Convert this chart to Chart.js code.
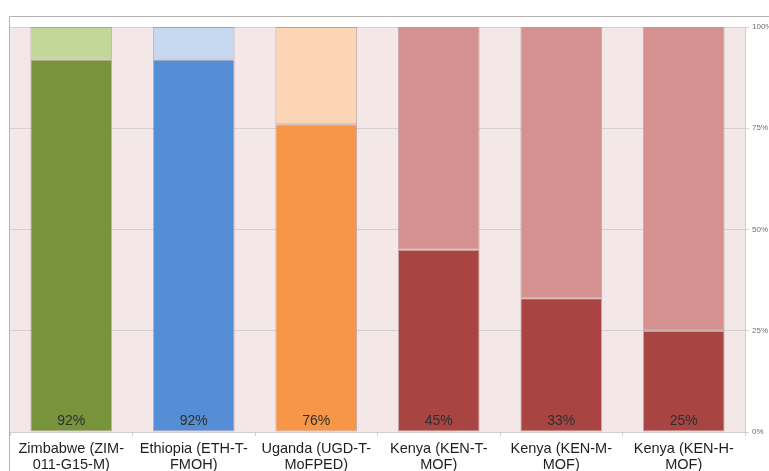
<!DOCTYPE html>
<html>
<head>
<meta charset="utf-8">
<script src="https://cdn.jsdelivr.net/npm/chart.js@4/dist/chart.umd.min.js"></script>
<style>
  html, body { margin: 0; padding: 0; background: #ffffff; }
  #wrap { width: 769px; height: 471px; position: relative; }
</style>
</head>
<body>
<div id="wrap"><canvas id="chart" width="769" height="471"></canvas></div>
<script>
// Budget programmes and the share achieved (percent); the rest fills each column to 100%
const categories = [
  ['Zimbabwe (ZIM-', '011-G15-M)'],
  ['Ethiopia (ETH-T-', 'FMOH)'],
  ['Uganda (UGD-T-', 'MoFPED)'],
  ['Kenya (KEN-T-', 'MOF)'],
  ['Kenya (KEN-M-', 'MOF)'],
  ['Kenya (KEN-H-', 'MOF)']
];
const achieved = [92, 92, 76, 45, 33, 25];
const remaining = [8, 8, 24, 55, 67, 75];
const yTicks = [0, 25, 50, 75, 100];

// Per-column colours: strong tone for the achieved part, pale tone for the remainder
const strongColors = ['#77933c', '#558ed5', '#f79646', '#a84542', '#a84542', '#a84542'];
const paleColors = ['#c4d79b', '#c6d9f1', '#fcd5b5', '#d49190', '#d49190', '#d49190'];
const edgeColor = 'rgba(150, 95, 95, 0.45)';

// Pink plotting area plus the thin frame around the chart
const backdrop = {
  id: 'backdrop',
  beforeDraw(chart) {
    const { ctx, chartArea: a } = chart;
    ctx.save();
    ctx.fillStyle = '#f3e7e7';
    ctx.fillRect(a.left, a.top, a.right - a.left, a.bottom - a.top);
    ctx.strokeStyle = '#b3b3b3';
    ctx.lineWidth = 1;
    ctx.beginPath();
    ctx.moveTo(9.5, chart.height);
    ctx.lineTo(9.5, 16.5);
    ctx.lineTo(chart.width, 16.5);
    ctx.stroke();
    ctx.restore();
  }
};

// Percentage written near the foot of each column
const valueLabels = {
  id: 'valueLabels',
  afterDatasetsDraw(chart) {
    const { ctx } = chart;
    const meta = chart.getDatasetMeta(0);
    const base = chart.scales.y.getPixelForValue(0);
    ctx.save();
    ctx.font = '14px "Liberation Sans", Arial, sans-serif';
    ctx.fillStyle = '#2e2e2e';
    ctx.textAlign = 'center';
    ctx.textBaseline = 'middle';
    meta.data.forEach((bar, i) => {
      ctx.fillText(achieved[i] + '%', bar.x, base - 11);
    });
    ctx.restore();
  }
};

new Chart(document.getElementById('chart'), {
  type: 'bar',
  data: {
    labels: categories,
    datasets: [
      {
        data: achieved,
        backgroundColor: strongColors,
        borderColor: edgeColor,
        borderWidth: 1,
        borderSkipped: false,
        barPercentage: 0.667,
        categoryPercentage: 1
      },
      {
        data: remaining,
        backgroundColor: paleColors,
        borderColor: edgeColor,
        borderWidth: 1,
        borderSkipped: false,
        barPercentage: 0.667,
        categoryPercentage: 1
      }
    ]
  },
  options: {
    responsive: false,
    animation: false,
    devicePixelRatio: 1,
    layout: { padding: { left: 10, top: 27, right: 0, bottom: 0 } },
    plugins: {
      legend: { display: false },
      tooltip: { enabled: false }
    },
    scales: {
      x: {
        stacked: true,
        offset: true,
        grid: {
          offset: true,
          drawOnChartArea: false,
          drawTicks: true,
          tickLength: 4,
          color: '#cfcfcf'
        },
        border: { display: true, color: '#cfcfcf' },
        ticks: {
          maxRotation: 0,
          minRotation: 0,
          autoSkip: false,
          padding: 5,
          color: '#1f1f1f',
          font: { family: '"Liberation Sans", Arial, sans-serif', size: 14.5, lineHeight: 1.1 }
        },
        afterFit(scale) { scale.height = 39; }
      },
      y: {
        stacked: true,
        position: 'right',
        min: 0,
        max: 100,
        afterBuildTicks(scale) { scale.ticks = yTicks.map(v => ({ value: v })); },
        grid: {
          color: '#d6d0d0',
          tickLength: 4
        },
        border: { display: true, color: '#cfcfcf' },
        ticks: {
          padding: 3,
          color: '#6e6e6e',
          font: { family: '"Liberation Sans", Arial, sans-serif', size: 8 },
          callback: v => v + '%'
        },
        afterFit(scale) { scale.width = 24; }
      }
    }
  },
  plugins: [backdrop, valueLabels]
});
</script>
</body>
</html>
